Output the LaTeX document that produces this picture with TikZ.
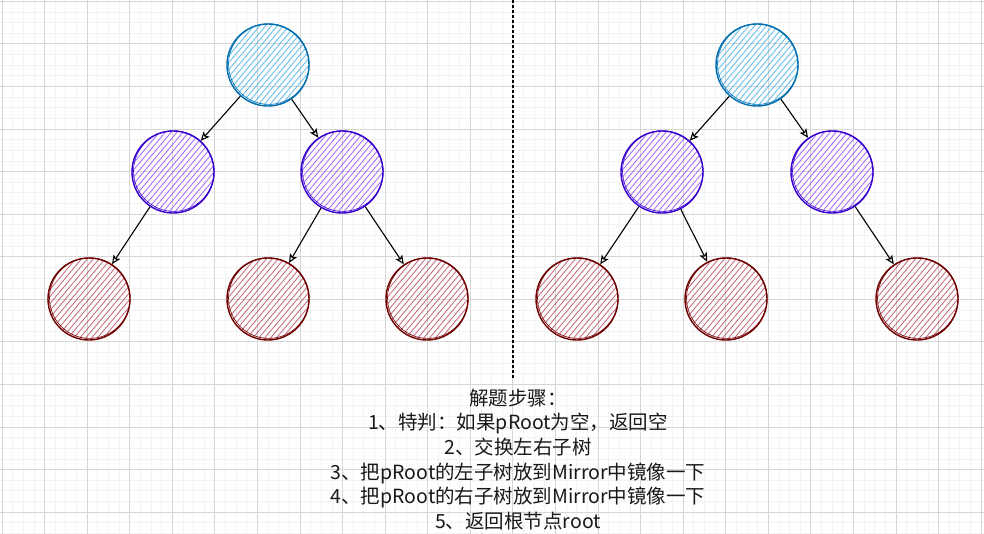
\documentclass[tikz,border=0pt]{standalone}
\usepackage{fontspec}
\setmainfont{Noto Sans CJK SC}
\usetikzlibrary{arrows.meta}
\definecolor{rootS}{HTML}{006EAF}
\definecolor{rootH}{HTML}{1BA1E2}
\definecolor{purpS}{HTML}{3700CC}
\definecolor{purpH}{HTML}{6A00FF}
\definecolor{redS}{HTML}{6F0000}
\definecolor{redH}{HTML}{A20025}
\definecolor{gridMajor}{HTML}{D6D6D6}
\definecolor{gridMinor}{HTML}{F3F3F3}
\tikzset{
  minorline/.style={gridMinor, line width=1pt},
  majorline/.style={gridMajor, line width=1pt},
  treecircle/.style={circle, inner sep=0pt, minimum size=82pt, line width=1.4pt},
  edge/.style={black, line width=1.1pt, -{Stealth[open, length=9pt, width=8pt, inset=2pt]}},
  divider/.style={black, line width=1.5pt, dash pattern=on 3pt off 2pt},
}
\newcommand\mynode[6]{% name, x, y, stroke, hatch, opacity
  \begin{scope}
    \clip (#2,#3) circle (40.5pt);
    \begin{scope}[shift={(#2,#3)}, rotate=50]
      \foreach \k in {-10,...,10} {
        \draw[#5, opacity=#6, line width=0.8pt] (-50pt,\k*4.5pt) -- (50pt,\k*4.5pt);
      }
    \end{scope}
  \end{scope}
  \node[treecircle, draw=#4] (#1) at (#2,#3) {};
  \draw[#4, line width=0.6pt] ([shift={(0.8pt,0.9pt)}]#1.center) circle (40.3pt);
}
\begin{document}
\begin{tikzpicture}[x=1pt, y=-1pt]
\useasboundingbox (0,0) rectangle (984,534);
\fill[white] (0,0) rectangle (984,534);
% grid
\foreach \i in {0,...,92} { \draw[minorline] ({2.1+10.643*\i},0) -- ({2.1+10.643*\i},534); }
\foreach \i in {0,...,50} { \draw[minorline] (0,{1.4+10.643*\i}) -- (984,{1.4+10.643*\i}); }
\foreach \i in {0,...,23} { \draw[majorline] ({2.1+42.57*\i},0) -- ({2.1+42.57*\i},534); }
\foreach \i in {0,...,12} { \draw[majorline] (0,{1.4+42.57*\i}) -- (984,{1.4+42.57*\i}); }
% divider
\coordinate (dtop) at (513,0);
\coordinate (dbot) at (513,378);
\draw[divider] (dtop) -- (dbot);
% left tree
\mynode{Lr}{268}{65}{rootS}{rootH}{0.7}
\mynode{La}{173}{172}{purpS}{purpH}{0.6}
\mynode{Lb}{342}{172}{purpS}{purpH}{0.6}
\mynode{Lc}{89}{299}{redS}{redH}{0.6}
\mynode{Ld}{268}{299}{redS}{redH}{0.6}
\mynode{Le}{427}{299}{redS}{redH}{0.6}
% right tree
\mynode{Rr}{757}{65}{rootS}{rootH}{0.7}
\mynode{Ra}{662}{172}{purpS}{purpH}{0.6}
\mynode{Rb}{832}{172}{purpS}{purpH}{0.6}
\mynode{Rc}{577}{299}{redS}{redH}{0.6}
\mynode{Rd}{726}{299}{redS}{redH}{0.6}
\mynode{Re}{917}{299}{redS}{redH}{0.6}
% edges
\draw[edge] (Lr) -- (La);
\draw[edge] (Lr) -- (Lb);
\draw[edge] (La) -- (Lc);
\draw[edge] (Lb) -- (Ld);
\draw[edge] (Lb) -- (Le);
\draw[edge] (Rr) -- (Ra);
\draw[edge] (Rr) -- (Rb);
\draw[edge] (Ra) -- (Rc);
\draw[edge] (Ra) -- (Rd);
\draw[edge] (Rb) -- (Re);
% text
\node[font=\fontsize{19.5}{24.7}\selectfont, align=center, text=black!90] (steps) at (518,459.5)
  {解题步骤：\\1、特判：如果pRoot为空，返回空\\2、交换左右子树\\3、把pRoot的左子树放到Mirror中镜像一下\\4、把pRoot的右子树放到Mirror中镜像一下\\5、返回根节点root};
\end{tikzpicture}
\end{document}
